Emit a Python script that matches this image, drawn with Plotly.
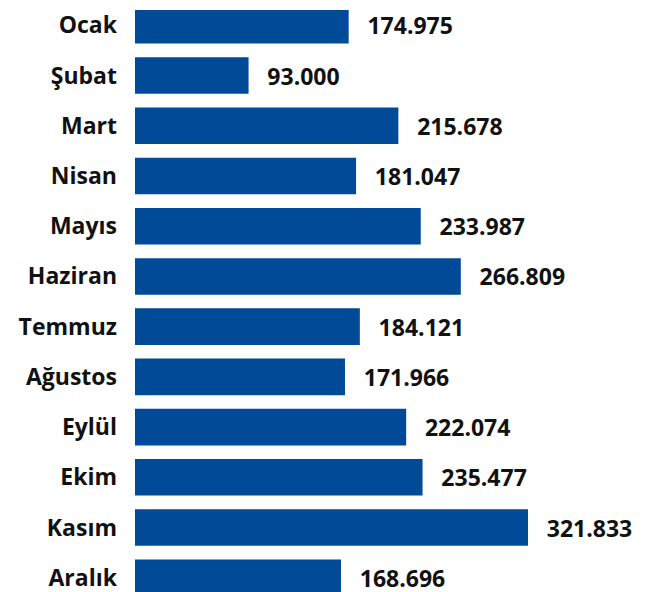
import plotly.graph_objects as go

months = ["Ocak", "Şubat", "Mart", "Nisan", "Mayıs", "Haziran", "Temmuz",
          "Ağustos", "Eylül", "Ekim", "Kasım", "Aralık"]
values = [174975, 93000, 215678, 181047, 233987, 266809, 184121,
          171966, 222074, 235477, 321833, 168696]
labels = ["174.975", "93.000", "215.678", "181.047", "233.987", "266.809", "184.121",
          "171.966", "222.074", "235.477", "321.833", "168.696"]

FONT = "Open Sans"
BAR_COLOR = "#004A97"

fig = go.Figure(go.Bar(
    x=values,
    y=months,
    orientation="h",
    marker=dict(color=BAR_COLOR, line=dict(width=0)),
    text=["\u00a0\u00a0\u2009" + t for t in labels],
    textposition="outside",
    cliponaxis=False,
    textfont=dict(family=FONT, size=23, color="#111111", weight="bold"),
    hoverinfo="skip",
))

fig.update_layout(
    width=649, height=592,
    margin=dict(l=127, r=0, t=0, b=0),
    paper_bgcolor="white", plot_bgcolor="white",
    bargap=0.272,
    showlegend=False,
    xaxis=dict(range=[0, 427470], visible=False, fixedrange=True),
    yaxis=dict(
        categoryorder="array", categoryarray=months,
        range=[11.442, -0.304],
        showgrid=False, zeroline=False, showline=False, ticks="",
        ticklabelstandoff=17,
        tickfont=dict(family=FONT, size=23, color="#111111", weight="bold"),
    ),
)

fig.write_html("out.html")
